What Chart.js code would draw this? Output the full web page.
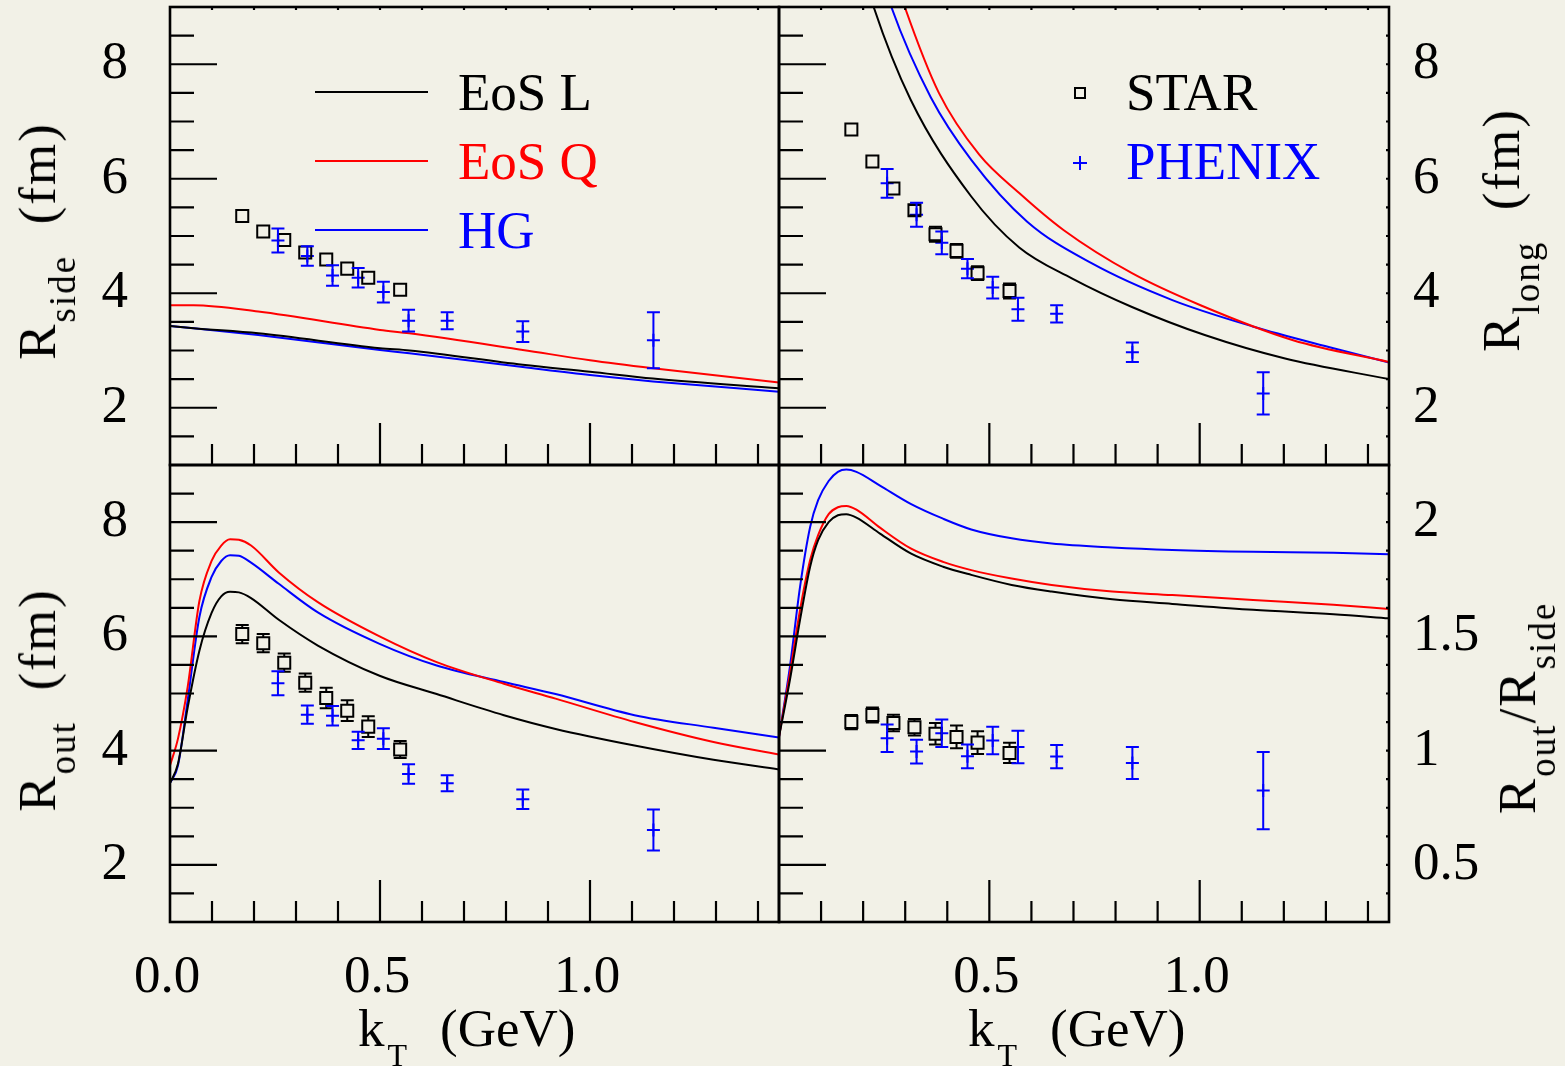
<!DOCTYPE html>
<html>
<head>
<meta charset="utf-8">
<title>HBT radii vs kT</title>
<style>
  html, body { margin: 0; padding: 0; }
  body { width: 1565px; height: 1066px; background: #f2f1e7; position: relative; overflow: hidden;
         font-family: "Liberation Serif", serif; color: #000; }
  canvas { position: absolute; left: 0; top: 0; }
  .txt { position: absolute; white-space: nowrap; font-size: 53px; line-height: 53px; }
  .sb { position: relative; font-size: 37px; top: 20px; }
  .yt { transform: translate(-50%, -50%) rotate(-90deg); letter-spacing: 2px; }
  .key { position: absolute; height: 2px; width: 113px; left: 315px; }
</style>
</head>
<body>
<canvas id="tl" width="1565" height="1066"></canvas>
<canvas id="tr" width="1565" height="1066"></canvas>
<canvas id="bl" width="1565" height="1066"></canvas>
<canvas id="br" width="1565" height="1066"></canvas>

<!-- axis titles -->
<div class="txt yt" style="left:40px;top:241px">R<span class="sb">side</span>&nbsp;&nbsp;(fm)</div>
<div class="txt yt" style="left:40px;top:700px">R<span class="sb">out</span>&nbsp;&nbsp;(fm)</div>
<div class="txt yt" style="left:1504px;top:230px">R<span class="sb">long</span>&nbsp;&nbsp;(fm)</div>
<div class="txt yt" style="left:1520px;top:708px">R<span class="sb">out</span>/R<span class="sb">side</span></div>
<div class="txt" style="left:358px;top:1002px">k<span class="sb" style="font-size:32px;margin-left:3px">T</span><span style="margin-left:33px">(GeV)</span></div>
<div class="txt" style="left:968px;top:1002px">k<span class="sb" style="font-size:32px;margin-left:3px">T</span><span style="margin-left:33px">(GeV)</span></div>

<!-- legends -->
<div class="key" style="top:91px;background:#000"></div>
<div class="key" style="top:160px;background:#f00"></div>
<div class="key" style="top:229px;background:#00f"></div>
<div class="txt" style="left:458px;top:66px">EoS L</div>
<div class="txt" style="left:458px;top:135px;color:#f00">EoS Q</div>
<div class="txt" style="left:458px;top:204px;color:#00f">HG</div>
<div style="position:absolute;left:1074px;top:87px;width:12px;height:12px;border:2px solid #000;box-sizing:border-box"></div>
<div style="position:absolute;left:1073px;top:162px;width:14px;height:2px;background:#00f"></div>
<div style="position:absolute;left:1079px;top:156px;width:2px;height:14px;background:#00f"></div>
<div class="txt" style="left:1126px;top:66px">STAR</div>
<div class="txt" style="left:1126px;top:135px;color:#00f">PHENIX</div>

<script src="https://cdn.jsdelivr.net/npm/chart.js@4.4.1/dist/chart.umd.min.js"></script>
<script>
// kT bins of the data (GeV)
const starKt   = [0.172, 0.222, 0.272, 0.322, 0.372, 0.422, 0.472, 0.548];
const phenixKt = [0.257, 0.327, 0.387, 0.448, 0.508, 0.568, 0.66, 0.84, 1.151];

// R_side (fm)
const starSide      = [5.35, 5.08, 4.93, 4.71, 4.59, 4.43, 4.27, 4.06];
const phenixSide    = [4.92, 4.65, 4.31, 4.27, 4.02, 3.52, 3.52, 3.33, 3.18];
const phenixSideErr = [0.21, 0.17, 0.18, 0.17, 0.18, 0.19, 0.15, 0.18, 0.49];

// R_long (fm)
const starLong      = [6.86, 6.30, 5.83, 5.45, 5.03, 4.74, 4.35, 4.04];
const starLongErr   = [0, 0, 0, 0.09, 0.13, 0.12, 0.12, 0.13];
const phenixLong    = [5.92, 5.37, 4.88, 4.43, 4.10, 3.72, 3.64, 2.97, 2.25];
const phenixLongErr = [0.25, 0.21, 0.20, 0.17, 0.19, 0.20, 0.15, 0.17, 0.37];

// R_out (fm)
const starOut      = [6.04, 5.88, 5.54, 5.19, 4.92, 4.70, 4.42, 4.02];
const starOutErr   = [0.16, 0.16, 0.16, 0.16, 0.18, 0.18, 0.18, 0.15];
const phenixOut    = [5.18, 4.63, 4.61, 4.18, 4.21, 3.59, 3.43, 3.15, 2.61];
const phenixOutErr = [0.21, 0.16, 0.17, 0.15, 0.18, 0.17, 0.14, 0.17, 0.36];

// R_out / R_side
const starRatio      = [1.125, 1.156, 1.121, 1.102, 1.074, 1.060, 1.035, 0.990];
const starRatioErr   = [0.031, 0.033, 0.036, 0.036, 0.047, 0.050, 0.050, 0.044];
const phenixRatio    = [1.054, 0.996, 1.076, 0.975, 1.044, 1.016, 0.974, 0.946, 0.825];
const phenixRatioErr = [0.060, 0.052, 0.060, 0.052, 0.060, 0.071, 0.051, 0.070, 0.169];

// hydro curves: EoS L (black), EoS Q (red), HG (blue)
const sideKt = [0, 0.056, 0.21, 0.5, 0.57, 0.84, 1.0, 1.15, 1.45];
const sideL  = [3.43, 3.39, 3.30, 3.04, 3.00, 2.75, 2.63, 2.51, 2.34];
const sideQ  = [3.79, 3.79, 3.68, 3.36, 3.30, 3.01, 2.83, 2.69, 2.44];
const sideHG = [3.43, 3.39, 3.27, 3.01, 2.95, 2.71, 2.57, 2.46, 2.28];

const longKtL  = [0.19, 0.225, 0.313, 0.457, 0.571, 0.696, 0.839, 1.012, 1.203, 1.45];
const longL    = [9.9, 9.0, 7.38, 5.69, 4.80, 4.26, 3.76, 3.27, 2.86, 2.50];
const longKtQ  = [0.26, 0.299, 0.380, 0.476, 0.571, 0.677, 0.839, 1.002, 1.222, 1.45];
const longQ    = [9.9, 9.0, 7.5, 6.42, 5.75, 5.10, 4.35, 3.79, 3.18, 2.80];
const longKtHG = [0.23, 0.267, 0.361, 0.457, 0.590, 0.744, 0.935, 1.126, 1.318, 1.45];
const longHG   = [9.9, 9.0, 7.42, 6.33, 5.25, 4.52, 3.88, 3.42, 3.04, 2.79];

const outKt = [0, 0.019, 0.042, 0.070, 0.099, 0.122, 0.143, 0.164, 0.193, 0.259, 0.352, 0.499, 0.635, 0.795, 0.918, 1.106, 1.294, 1.45];
const outL  = [3.43, 3.77, 4.75, 5.75, 6.41, 6.70, 6.78, 6.77, 6.67, 6.29, 5.84, 5.31, 4.99, 4.62, 4.38, 4.09, 3.84, 3.67];
const outQ  = [3.74, 4.21, 5.11, 6.62, 7.32, 7.59, 7.70, 7.69, 7.59, 7.12, 6.60, 6.00, 5.55, 5.17, 4.91, 4.50, 4.15, 3.93];
const outHG = [3.43, 3.74, 4.88, 6.34, 7.04, 7.32, 7.42, 7.41, 7.29, 6.92, 6.42, 5.87, 5.49, 5.20, 4.99, 4.62, 4.40, 4.23];

const ratioKt = [0, 0.026, 0.050, 0.074, 0.093, 0.118, 0.140, 0.160, 0.184, 0.24, 0.313, 0.390, 0.457, 0.553, 0.648, 0.792, 0.935, 1.127, 1.318, 1.45];
const ratioL  = [1.06, 1.31, 1.572, 1.805, 1.921, 2.00, 2.03, 2.035, 2.020, 1.950, 1.863, 1.805, 1.769, 1.725, 1.696, 1.662, 1.642, 1.616, 1.597, 1.579];
const ratioQ  = [1.06, 1.339, 1.616, 1.834, 1.943, 2.035, 2.065, 2.071, 2.055, 1.976, 1.885, 1.826, 1.790, 1.753, 1.725, 1.696, 1.681, 1.659, 1.638, 1.620];
const ratioHG = [1.06, 1.368, 1.717, 1.979, 2.096, 2.18, 2.22, 2.230, 2.22, 2.16, 2.08, 2.015, 1.968, 1.929, 1.906, 1.889, 1.878, 1.870, 1.866, 1.859];

// axis ticks
const xLabelsLeft  = [0, 0.5, 1.0];
const xLabelsRight = [0.5, 1.0];
const xMajor = [0.5, 1.0];
const fmLabels = [2, 4, 6, 8];
const ratioLabels = [0.5, 1, 1.5, 2];

function steps(lo, hi, step, skip) {
  const out = [];
  for (let v = lo; v <= hi + 1e-9; v += step) {
    const r = Math.round(v * 1000) / 1000;
    if (!skip.some(s => Math.abs(s - r) < 1e-6)) out.push(r);
  }
  return out;
}
const xMinor = steps(0.1, 1.4, 0.1, xMajor);
const fmMinor = steps(1.5, 8.5, 0.5, fmLabels);
const ratioMinor = steps(0.375, 2.125, 0.125, ratioLabels);

Chart.defaults.font.family = '"Liberation Serif", serif';
Chart.defaults.font.size = 53;
Chart.defaults.color = '#000';

function pts(xs, ys) { return xs.map((x, i) => ({x: x, y: ys[i]})); }

function curve(xs, ys, color) {
  return { data: pts(xs, ys), borderColor: color, borderWidth: 2, pointRadius: 0,
           cubicInterpolationMode: 'monotone', fill: false };
}
function star(ys, err) {
  return { data: pts(starKt, ys), errors: err, capGap: 6, showLine: false, pointStyle: 'rect',
           pointRadius: 8.5, borderWidth: 2, borderColor: '#000', backgroundColor: 'rgba(0,0,0,0)' };
}
function phenix(ys, err) {
  return { data: pts(phenixKt, ys), errors: err, capGap: 0, showLine: false, pointStyle: 'cross',
           pointRadius: 6.5, borderWidth: 2, borderColor: '#00f' };
}

// error bars with caps
const errorBars = {
  id: 'errorBars',
  afterDatasetsDraw(chart) {
    const ctx = chart.ctx, xs = chart.scales.x, ys = chart.scales.y;
    chart.data.datasets.forEach(ds => {
      if (!ds.errors) return;
      ctx.save();
      ctx.strokeStyle = ds.borderColor;
      ctx.lineWidth = 2;
      ds.data.forEach((p, i) => {
        const e = ds.errors[i];
        if (!e) return;
        const px = xs.getPixelForValue(p.x);
        const py = ys.getPixelForValue(p.y);
        const top = ys.getPixelForValue(p.y + e);
        const bot = ys.getPixelForValue(p.y - e);
        const g = ds.capGap;
        ctx.beginPath();
        if (py - top > g) {
          ctx.moveTo(px, top); ctx.lineTo(px, py - g);
          ctx.moveTo(px, py + g); ctx.lineTo(px, bot);
        }
        ctx.moveTo(px - 6.5, top); ctx.lineTo(px + 6.5, top);
        ctx.moveTo(px - 6.5, bot); ctx.lineTo(px + 6.5, bot);
        ctx.stroke();
      });
      ctx.restore();
    });
  }
};

// box frame with inward ticks
const frame = {
  id: 'frame',
  afterDraw(chart, args, o) {
    const ctx = chart.ctx, a = chart.chartArea, xs = chart.scales.x, ys = chart.scales.y;
    ctx.save();
    ctx.strokeStyle = '#000';
    ctx.lineWidth = 2.2;
    ctx.beginPath();
    const yt = (vals, len) => vals.forEach(v => {
      const y = ys.getPixelForValue(v);
      ctx.moveTo(a.left, y); ctx.lineTo(a.left + len, y);
      if (o.right) { ctx.moveTo(a.right, y); ctx.lineTo(a.right - 3, y); }
    });
    const xt = (vals, len) => vals.forEach(v => {
      const x = xs.getPixelForValue(v);
      ctx.moveTo(x, a.bottom); ctx.lineTo(x, a.bottom - len);
      if (o.top) { ctx.moveTo(x, a.top); ctx.lineTo(x, a.top + 3); }
    });
    yt(o.yMajor, 47); yt(o.yMinor, 24);
    xt(xMajor, 42); xt(xMinor, 21);
    ctx.stroke();
    ctx.lineWidth = 2.6;
    ctx.strokeRect(a.left, a.top, a.right - a.left, a.bottom - a.top);
    ctx.restore();
  }
};

function fixed(size) {
  return s => {
    if (s.isHorizontal()) s.height = size; else s.width = size;
    s.paddingTop = s.paddingBottom = s.paddingLeft = s.paddingRight = 0;
  };
}
function setTicks(vals) {
  return s => { s.ticks = vals.map(v => ({value: v})); };
}

function panel(id, p) {
  return new Chart(document.getElementById(id), {
    type: 'line',
    data: { datasets: p.datasets },
    options: {
      responsive: false,
      animation: false,
      devicePixelRatio: 1,
      layout: { padding: p.pad, autoPadding: false },
      plugins: {
        legend: { display: false },
        tooltip: { enabled: false },
        frame: { yMajor: p.yMajor, yMinor: p.yMinor, right: p.right, top: p.top }
      },
      scales: {
        x: {
          type: 'linear', min: 0, max: 1.45,
          display: !!p.xLabels,
          grid: { display: false, drawTicks: false },
          border: { display: false },
          ticks: { padding: 24, labelOffset: -3, autoSkip: false, maxRotation: 0,
                   callback: v => v.toFixed(1) },
          afterBuildTicks: setTicks(p.xLabels || []),
          afterFit: fixed(p.xLabels ? 144 : 0)
        },
        y: {
          type: 'linear', min: p.yMin, max: p.yMax,
          position: p.right ? 'right' : 'left',
          grid: { display: false, drawTicks: false },
          border: { display: false },
          ticks: { padding: p.right ? 24 : 42, autoSkip: false, callback: v => String(v) },
          afterBuildTicks: setTicks(p.yMajor),
          afterFit: fixed(p.right ? 176 : 170)
        }
      }
    },
    plugins: [errorBars, frame]
  });
}

panel('tl', {
  pad: { left: 0, top: 7, right: 786, bottom: 601 },
  yMin: 1, yMax: 9, yMajor: fmLabels, yMinor: fmMinor, right: false, top: true,
  datasets: [curve(sideKt, sideL, '#000'), curve(sideKt, sideQ, '#f00'), curve(sideKt, sideHG, '#00f'),
             star(starSide, null), phenix(phenixSide, phenixSideErr)]
});
panel('tr', {
  pad: { left: 779, top: 7, right: 0, bottom: 601 },
  yMin: 1, yMax: 9, yMajor: fmLabels, yMinor: fmMinor, right: true, top: true,
  datasets: [curve(longKtL, longL, '#000'), curve(longKtQ, longQ, '#f00'), curve(longKtHG, longHG, '#00f'),
             star(starLong, starLongErr), phenix(phenixLong, phenixLongErr)]
});
panel('bl', {
  pad: { left: 0, top: 465, right: 786, bottom: 0 },
  yMin: 1, yMax: 9, yMajor: fmLabels, yMinor: fmMinor, right: false, top: false,
  xLabels: xLabelsLeft,
  datasets: [curve(outKt, outL, '#000'), curve(outKt, outQ, '#f00'), curve(outKt, outHG, '#00f'),
             star(starOut, starOutErr), phenix(phenixOut, phenixOutErr)]
});
panel('br', {
  pad: { left: 779, top: 465, right: 0, bottom: 0 },
  yMin: 0.25, yMax: 2.25, yMajor: ratioLabels, yMinor: ratioMinor, right: true, top: false,
  xLabels: xLabelsRight,
  datasets: [curve(ratioKt, ratioL, '#000'), curve(ratioKt, ratioQ, '#f00'), curve(ratioKt, ratioHG, '#00f'),
             star(starRatio, starRatioErr), phenix(phenixRatio, phenixRatioErr)]
});
</script>
</body>
</html>
